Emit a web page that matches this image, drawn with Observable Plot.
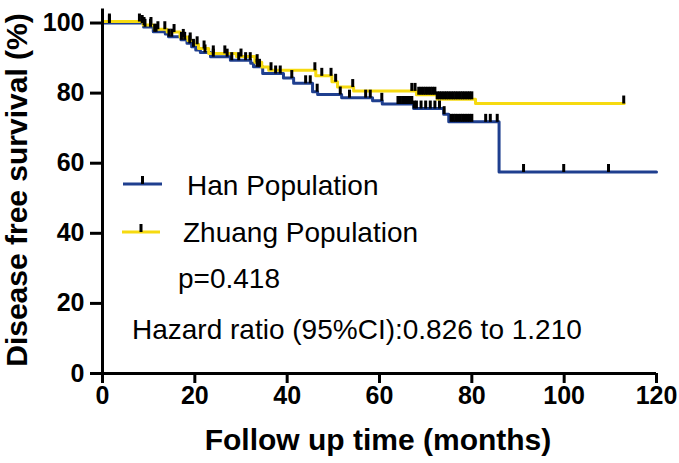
<!DOCTYPE html>
<html><head><meta charset="utf-8">
<script src="https://cdn.jsdelivr.net/npm/d3@7"></script>
<script src="https://cdn.jsdelivr.net/npm/@observablehq/plot@0.6"></script>
<style>
html,body{margin:0;padding:0;background:#fff;}
#chart{width:679px;height:463px;}
#chart svg g[aria-label$="tick label"] text, #chart svg .tick text {font-size:25px !important; font-weight:bold !important;}
</style></head><body><div id="chart"></div>
<script>
// ---- data ----
const hanTimes = [0, 8.9, 11.0, 13.6, 14.3, 17.0, 18.3, 19.3, 20.2, 21.2, 23.4, 27.7, 32.1, 32.7, 34.7, 39.2, 41.4, 45.5, 46.6, 51.8, 58.5, 60.6, 67.4, 73.9, 75.0, 85.9];
const hanSurv  = [100, 98.9, 97.5, 96.9, 96.1, 95.2, 94.2, 93.2, 92.3, 91.6, 90.4, 89.4, 88.5, 87.5, 85.6, 84.3, 82.8, 80.4, 79.6, 78.7, 77.8, 76.9, 75.6, 74.0, 71.8, 57.5];
const hanEnd = 120;
const hanCensor = [1.5, 8.6, 9.2, 10.4, 11.3, 11.6, 14.4, 15.0, 17.1, 17.8, 18.9, 19.7, 22.2, 24.0, 27.0, 28.0, 29.5, 31.0, 32.0, 33.5, 34.0, 37.5, 38.5, 41.0, 44.0, 45.0, 46.5, 51.5, 53.5, 57.0, 58.0, 60.5, 64.0, 64.5, 65.0, 65.5, 66.0, 66.5, 67.0, 67.5, 68.0, 69.0, 70.0, 71.0, 72.0, 73.0, 74.0, 75.5, 76.0, 76.5, 77.0, 77.5, 78.0, 78.5, 79.0, 79.5, 80.0, 83.0, 84.0, 85.5, 91.2, 99.9, 109.6];

const zhuangTimes = [0, 8.8, 11.2, 14.0, 16.8, 18.5, 19.8, 20.8, 23.0, 29.0, 33.0, 34.5, 36.0, 46.2, 49.7, 50.9, 54.4, 68.0, 72.5, 80.8];
const zhuangSurv  = [100, 99.0, 97.8, 97.0, 95.6, 94.6, 93.5, 92.3, 90.9, 90.0, 88.4, 87.0, 86.1, 84.5, 82.8, 81.3, 80.2, 79.1, 77.8, 76.6];
const zhuangEnd = 113;
const zhuangCensor = [1.5, 8.0, 9.0, 10.5, 12.0, 13.5, 15.5, 17.5, 19.0, 20.5, 22.0, 24.0, 26.5, 30.0, 33.5, 36.5, 46.0, 47.5, 49.5, 50.5, 54.2, 67.0, 67.7, 68.5, 69.0, 69.5, 70.0, 70.5, 71.0, 71.5, 72.0, 72.5, 73.0, 73.5, 74.0, 74.5, 75.0, 75.5, 76.0, 76.5, 77.0, 77.5, 78.0, 78.5, 79.0, 79.5, 80.0, 112.9];

const xTicks = [0, 20, 40, 60, 80, 100, 120];
const yTicks = [0, 20, 40, 60, 80, 100];
const seriesNames = ["Han Population", "Zhuang Population"];
const seriesColors = ["#1f3f8f", "#f6da10"];
const statTexts = ["p=0.418", "Hazard ratio (95%CI):0.826 to 1.210"];
const xLabel = "Follow up time (months)";
const yLabel = "Disease free survival (%)";

// ---- helpers ----
function stepPoints(times, surv, end) {
  const pts = times.map((t, i) => ({t, s: surv[i]}));
  pts.push({t: end, s: surv[surv.length - 1]});
  return pts;
}
function survAt(times, surv, t) {
  let s = surv[0];
  for (let i = 0; i < times.length; i++) if (times[i] <= t) s = surv[i];
  return s;
}
const hanLine = stepPoints(hanTimes, hanSurv, hanEnd);
const zhuangLine = stepPoints(zhuangTimes, zhuangSurv, zhuangEnd);
const hanMarks = hanCensor.map(t => ({t, s: survAt(hanTimes, hanSurv, t)}));
const zhuangMarks = zhuangCensor.map(t => ({t, s: survAt(zhuangTimes, zhuangSurv, t)}));

const censorTick = { draw(ctx) { ctx.moveTo(0, 0); ctx.lineTo(0, -8); } };

const plot = Plot.plot({
  width: 679,
  height: 463,
  marginLeft: 102,
  marginRight: 23,
  marginTop: 8.5,
  marginBottom: 90,
  style: {fontFamily: "'Liberation Sans', Arial, sans-serif", fontSize: "24px", fontWeight: "bold", color: "black", background: "white"},
  x: {domain: [0, 120], label: null},
  y: {domain: [0, 104], label: null},
  marks: [
    Plot.axisX({ticks: xTicks, tickSize: 10, tickPadding: 3, strokeWidth: 3, fontSize: 25, fontWeight: "bold", label: null}),
    Plot.axisY({ticks: yTicks, tickSize: 12, tickPadding: 6, strokeWidth: 3, fontSize: 25, fontWeight: "bold", label: null}),
    Plot.line(hanLine, {x: "t", y: "s", curve: "step-after", stroke: seriesColors[0], strokeWidth: 3}),
    Plot.line(zhuangLine, {x: "t", y: "s", curve: "step-after", stroke: seriesColors[1], strokeWidth: 3, dy: -1.5}),
    Plot.dot(hanMarks, {x: "t", y: "s", symbol: censorTick, stroke: "black", fill: "none", strokeWidth: 3}),
    Plot.dot(zhuangMarks, {x: "t", y: "s", symbol: censorTick, stroke: "black", fill: "none", strokeWidth: 3, dy: -1.5}),
    Plot.ruleY([0], {stroke: "black", strokeWidth: 3}),
    Plot.ruleX([0], {stroke: "black", strokeWidth: 3})
  ]
});
document.getElementById("chart").appendChild(plot);

const svg = d3.select(plot);

// axis titles
svg.append("text").text(xLabel)
  .attr("x", 378).attr("y", 450).attr("text-anchor", "middle")
  .style("font-size", "30px").style("font-weight", "bold");
svg.append("text").text(yLabel)
  .attr("transform", "translate(27,190) rotate(-90)").attr("text-anchor", "middle")
  .style("font-size", "30px").style("font-weight", "bold");

// legend
const leg = svg.append("g").attr("text-anchor", "start");
const legRows = [{x1: 123, x2: 162, y: 184, tx: 187, ty: 195}, {x1: 122, x2: 160, y: 232, tx: 183, ty: 242}];
seriesNames.forEach((name, i) => {
  const r = legRows[i];
  leg.append("line").attr("x1", r.x1).attr("x2", r.x2).attr("y1", r.y).attr("y2", r.y)
    .attr("stroke", seriesColors[i]).attr("stroke-width", 3);
  leg.append("line").attr("x1", (r.x1 + r.x2) / 2).attr("x2", (r.x1 + r.x2) / 2).attr("y1", r.y).attr("y2", r.y - 8)
    .attr("stroke", "black").attr("stroke-width", 3);
  leg.append("text").text(name).attr("x", r.tx).attr("y", r.ty);
});
leg.append("text").text(statTexts[0]).attr("x", 178).attr("y", 288);
leg.append("text").text(statTexts[1]).attr("x", 132).attr("y", 339);
leg.selectAll("text").style("font-size", "28px").style("font-weight", "normal");
</script></body></html>
